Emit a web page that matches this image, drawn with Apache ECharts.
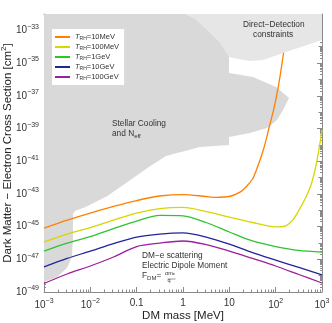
<!DOCTYPE html>
<html><head><meta charset="utf-8">
<script src="https://cdn.jsdelivr.net/npm/echarts@6/dist/echarts.min.js"></script>
<style>html,body{margin:0;padding:0;background:#fff}#c{width:332px;height:323px}</style>
</head><body><div id="c"></div>
<script>
// ---- data (log10 of DM mass in MeV, log10 of cross section in cm^2) ----
const seriesNames = ['10MeV','100MeV','1GeV','10GeV','100GeV'];
const seriesColors = ['#ff8000','#d6d600','#2ec42e','#23239c','#9c1f9c'];

const orangeLogM = [-3,-2.5,-2,-1.5,-1,-0.5,0,0.5,0.712,1.0,1.231,1.36,1.5,1.576,1.727,1.856,1.964,2.051,2.115,2.18];
const orangeLogS = [-45.09,-44.60,-44.17,-43.77,-43.41,-43.13,-43.04,-43.16,-43.21,-43.16,-42.89,-42.58,-42.09,-41.60,-40.38,-38.97,-37.75,-36.53,-35.43,-34.20];

const yellowLogM = [-3,-2.5,-2,-1.5,-1,-0.5,0,0.5,1,1.5,2,2.202,2.374,2.504,2.655,2.763,2.849,2.914,2.957,3.0];
const yellowLogS = [-45.94,-45.46,-45.06,-44.60,-44.17,-43.90,-43.83,-44.08,-44.42,-44.75,-45.02,-44.97,-44.57,-43.99,-43.19,-42.46,-41.54,-40.62,-39.89,-39.09];

const gridLogM = [-3,-2.5,-2,-1.5,-1,-0.5,0,0.5,1,1.5,2,2.5,3];
const greenLogS  = [-46.50,-46.01,-45.61,-45.12,-44.66,-44.32,-44.35,-44.75,-45.33,-45.88,-46.22,-46.46,-46.56];
const blueLogS   = [-47.47,-46.95,-46.50,-46.04,-45.64,-45.46,-45.39,-45.64,-46.07,-46.59,-47.05,-47.50,-47.96];
const purpleLogS = [-48.48,-47.90,-47.41,-46.86,-46.22,-46.01,-45.88,-46.10,-46.50,-46.95,-47.41,-47.93,-48.45];

// Stellar cooling and N_eff region boundary
const stellarLogM = [-3,0.993,0.993,1.511,2.008,2.288,2.159,2.029,1.813,1.446,0.993,0.993,0.367,-0.367,-0.712,-1.144,-1.640,-2.115,-2.331,-2.374,-2.374,-2.396,-2.504,-2.719,-3];
const stellarLogS = [-32,-32,-35.61,-35.85,-36.46,-37.14,-37.87,-38.48,-38.97,-39.28,-39.52,-40.01,-40.13,-40.69,-41.31,-42.16,-43.14,-43.81,-44.05,-44.23,-45.64,-46.86,-47.54,-48.09,-48.39];

// Direct-detection region boundary
const directLogM = [0.043,3,3,2.677,2.159,1.727,1.446,1.187,0.993,0.799,0.518,0.259];
const directLogS = [-32,-32,-33.59,-33.9,-34.39,-34.81,-34.87,-34.75,-34.63,-33.77,-32.98,-32.31];

// axis ticks
const xTickValues = [-3,-2,-1,0,1,2,3];
const xTickLabels = ['10^−3','10^−2','0.1','1','10','10^2','10^3'];
const yTickValues = [-49,-47,-45,-43,-41,-39,-37,-35,-33];
const yTickLabels = ['10^−49','10^−47','10^−45','10^−43','10^−41','10^−39','10^−37','10^−35','10^−33'];
const yDecades = [-49,-48,-47,-46,-45,-44,-43,-42,-41,-40,-39,-38,-37,-36,-35,-34,-33,-32];

// ---- build ----
const FONT = '"Liberation Sans", Arial, sans-serif';
const GRAY = '#8a8a8a';
function minorTicks(lo, hi) {
  const out = [];
  for (let d = lo; d < hi; d++) for (let k = 2; k <= 9; k++) out.push(d + Math.log10(k));
  return out;
}
function richLabel(s) {
  const p = s.split('^');
  return p.length > 1 ? '{b|' + p[0] + '}{s|' + p[1] + '}' : '{b|' + s + '}';
}
function fmt(values, labels) {
  return v => { const i = values.findIndex(t => Math.abs(t - v) < 1e-6); return i < 0 ? '' : richLabel(labels[i]); };
}
const labelRich = {
  b: {fontSize: 10, fontFamily: FONT, color: '#333'},
  s: {fontSize: 7, fontFamily: FONT, color: '#333', verticalAlign: 'bottom', padding: [0, 0, 7, 0]}
};
function axisBase(min, max, pos) {
  return {type: 'value', min, max, position: pos, axisLine: {show: true, onZero: false, lineStyle: {color: GRAY, width: 1}},
    splitLine: {show: false}, axisLabel: {show: false}};
}
const xMinor = minorTicks(-3, 3);
const yMinor = minorTicks(-49, -32);

const xAxes = [];
['bottom', 'top'].forEach(pos => {
  const major = axisBase(-3, 3, pos);
  major.axisTick = {inside: true, length: 5, customValues: xTickValues, lineStyle: {color: GRAY}};
  if (pos === 'bottom') {
    major.axisLabel = {show: true, customValues: xTickValues, formatter: fmt(xTickValues, xTickLabels), rich: labelRich, margin: 6, hideOverlap: false};
    major.name = 'DM mass [MeV]';
    major.nameLocation = 'middle';
    major.nameGap = 18;
    major.nameMoveOverlap = false;
    major.nameTextStyle = {fontSize: 11.5, fontFamily: FONT, color: '#222'};
  }
  const minor = axisBase(-3, 3, pos);
  minor.axisLine.show = false;
  minor.axisTick = {inside: true, length: 2.5, customValues: xMinor, lineStyle: {color: GRAY}};
  xAxes.push(major, minor);
});
const yAxes = [];
['left', 'right'].forEach(pos => {
  const major = axisBase(-49, -32, pos);
  major.axisTick = {inside: true, length: 5, customValues: yTickValues, lineStyle: {color: GRAY}};
  if (pos === 'left') {
    major.axisLabel = {show: true, customValues: yTickValues, formatter: fmt(yTickValues, yTickLabels), rich: labelRich, margin: 5, hideOverlap: false};
    major.name = 'Dark Matter − Electron Cross Section [cm{s|2}]';
    major.nameLocation = 'middle';
    major.nameGap = 29;
    major.nameMoveOverlap = false;
    major.nameTextStyle = {fontSize: 11.5, fontFamily: FONT, color: '#222', rich: {s: {fontSize: 8, fontFamily: FONT, color: '#222', verticalAlign: 'bottom', padding: [0, 0, 7, 0]}}};
  }
  const mid = axisBase(-49, -32, pos);
  mid.axisLine.show = false;
  mid.axisTick = {inside: true, length: 3.5, customValues: yDecades, lineStyle: {color: GRAY}};
  const minor = axisBase(-49, -32, pos);
  minor.axisLine.show = false;
  minor.axisTick = {inside: true, length: 2, customValues: yMinor, lineStyle: {color: GRAY}};
  yAxes.push(major, mid, minor);
});

function region(lm, ls, color, z) {
  return {type: 'custom', coordinateSystem: 'cartesian2d', xAxisIndex: 0, yAxisIndex: 0, silent: true, z, clip: true,
    data: lm.map((v, i) => [v, ls[i]]),
    renderItem: (params, api) => {
      if (params.dataIndex !== 0) return null;
      const pts = lm.map((v, i) => api.coord([v, ls[i]]));
      return {type: 'polygon', shape: {points: pts}, style: {fill: color}};
    }};
}
const curves = [[orangeLogM, orangeLogS], [yellowLogM, yellowLogS], [gridLogM, greenLogS], [gridLogM, blueLogS], [gridLogM, purpleLogS]];
const series = [region(stellarLogM, stellarLogS, '#d9d9d9', 1)];
curves.forEach((c, k) => {
  series.push({type: 'line', name: 'TRH=' + seriesNames[k], xAxisIndex: 0, yAxisIndex: 0, z: 3,
    data: c[0].map((v, i) => [v, c[1][i]]), showSymbol: false, smooth: 0.3, clip: true,
    lineStyle: {color: seriesColors[k], width: 1.3}, itemStyle: {color: seriesColors[k]}});
});
series.push(region(directLogM, directLogS, '#e6e6e6', 5));

const txt = {fontSize: 8.3, fontFamily: FONT, fill: '#333'};
const subRich = {s: {fontSize: 6, fontFamily: FONT, fill: '#333', verticalAlign: 'top', padding: [4, 0, 0, 0]}};
const option = {
  animation: false,
  grid: {left: 44, right: 10, top: 14, bottom: 31, containLabel: false, outerBoundsMode: 'none'},
  xAxis: xAxes,
  yAxis: yAxes,
  legend: {data: seriesNames.map(n => 'TRH=' + n), orient: 'vertical', left: 52, top: 29, backgroundColor: '#fff',
    padding: [4, 5, 4, 3], itemWidth: 15, itemHeight: 2, itemGap: 2, icon: 'rect',
    formatter: n => '{t|T}{r|RH}{n|' + n.slice(3) + '}',
    textStyle: {fontSize: 7.5, fontFamily: FONT, color: '#333',
      rich: {t: {fontSize: 7.5, fontStyle: 'italic', fontFamily: FONT, color: '#333'},
             r: {fontSize: 5, fontFamily: FONT, color: '#333', verticalAlign: 'top', padding: [3, 0, 0, 0]},
             n: {fontSize: 7.5, fontFamily: FONT, color: '#333'}}}},
  graphic: [
    {type: 'text', left: 243, top: 21, z: 10, style: Object.assign({text: 'Direct−Detection'}, txt)},
    {type: 'text', left: 253, top: 31, z: 10, style: Object.assign({text: 'constraints'}, txt)},
    {type: 'text', left: 112, top: 120, z: 10, style: Object.assign({text: 'Stellar Cooling'}, txt)},
    {type: 'text', left: 112, top: 130, z: 10, style: Object.assign({text: 'and N{s|eff}', rich: subRich}, txt)},
    {type: 'text', left: 142, top: 252, z: 10, style: Object.assign({text: 'DM−e scattering'}, txt)},
    {type: 'text', left: 142, top: 262, z: 10, style: Object.assign({text: 'Electric Dipole Moment'}, txt)},
    {type: 'text', left: 142, top: 272, z: 10, style: Object.assign({text: 'F{s|DM}=', rich: subRich}, txt)},
    {type: 'text', left: 165, top: 270, z: 10, style: {text: 'αm{s|e}', fontSize: 5.5, fontFamily: FONT, fill: '#333',
      rich: {s: {fontSize: 4, fontFamily: FONT, fill: '#333', verticalAlign: 'top', padding: [2, 0, 0, 0]}}}},
    {type: 'line', left: 165, top: 276.5, z: 10, shape: {x1: 0, y1: 0, x2: 8, y2: 0}, style: {stroke: '#333', lineWidth: 0.5}},
    {type: 'text', left: 167.5, top: 277, z: 10, style: {text: 'q', fontSize: 5.5, fontFamily: FONT, fill: '#333'}}
  ],
  series
};
echarts.init(document.getElementById('c'), null, {renderer: 'canvas'}).setOption(option);
</script></body></html>
